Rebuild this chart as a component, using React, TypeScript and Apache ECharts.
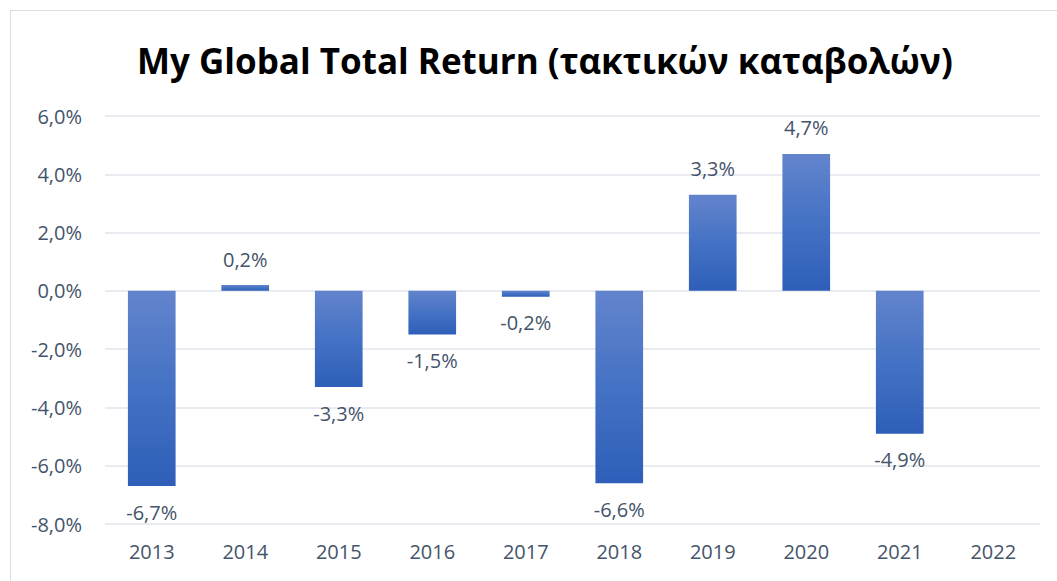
import React, { useEffect, useRef } from "react";
import * as echarts from "echarts";

const titleText = "My Global Total Return (τακτικών καταβολών)";
const categories = ["2013", "2014", "2015", "2016", "2017", "2018", "2019", "2020", "2021", "2022"];
const values: (number | null)[] = [-6.7, 0.2, -3.3, -1.5, -0.2, -6.6, 3.3, 4.7, -4.9, null];
const yMin = -8;
const yMax = 6;
const yStep = 2;

const fmt = (v: number) => v.toFixed(1).replace(".", ",") + "%";

export default function App() {
  const ref = useRef<HTMLDivElement>(null);
  useEffect(() => {
    document.body.style.margin = "0";
    const chart = echarts.init(ref.current!, null, { renderer: "svg" });
    const textColor = "#44546A";
    const font = "Open Sans";
    chart.setOption({
      animation: false,
      backgroundColor: "#ffffff",
      title: {
        text: titleText,
        left: 132,
        top: 38,
        textStyle: { fontFamily: font, fontWeight: "bold", fontSize: 35, color: "#000000" },
      },
      graphic: [
        {
          type: "rect",
          shape: { x: 10.5, y: 10.5, width: 1100, height: 700 },
          style: { fill: "none", stroke: "#D9DDE5", lineWidth: 1 },
          silent: true,
        },
      ],
      grid: { left: 105, right: 17, top: 116, bottom: 57, containLabel: false },
      xAxis: {
        type: "category",
        data: categories,
        axisLine: { show: false, onZero: false },
        axisTick: { show: false },
        axisLabel: { color: textColor, fontFamily: font, fontSize: 20, margin: 17 },
      },
      yAxis: {
        type: "value",
        min: yMin,
        max: yMax,
        interval: yStep,
        axisLine: { show: false },
        axisTick: { show: false },
        splitLine: { lineStyle: { color: "#E1E5EB", width: 1.5 } },
        axisLabel: {
          color: textColor,
          fontFamily: font,
          fontSize: 20,
          margin: 23,
          formatter: (v: number) => fmt(v),
        },
      },
      series: [
        {
          type: "bar",
          barWidth: "51%",
          data: values.map((v) => ({
            value: v,
            label: {
              show: v !== null,
              position: v !== null && v < 0 ? "bottom" : "top",
              distance: v !== null && v < 0 ? 16 : 16,
              color: textColor,
              fontFamily: font,
              fontSize: 20,
              formatter: () => (v === null ? "" : fmt(v)),
            },
          })),
          itemStyle: {
            color: new echarts.graphic.LinearGradient(0, 0, 0, 1, [
              { offset: 0, color: "#6384CD" },
              { offset: 0.5, color: "#4472C4" },
              { offset: 1, color: "#2E5EB8" },
            ]),
          },
        },
      ],
    });
    return () => chart.dispose();
  }, []);
  return <div ref={ref} style={{ width: 1057, height: 581 }} />;
}
